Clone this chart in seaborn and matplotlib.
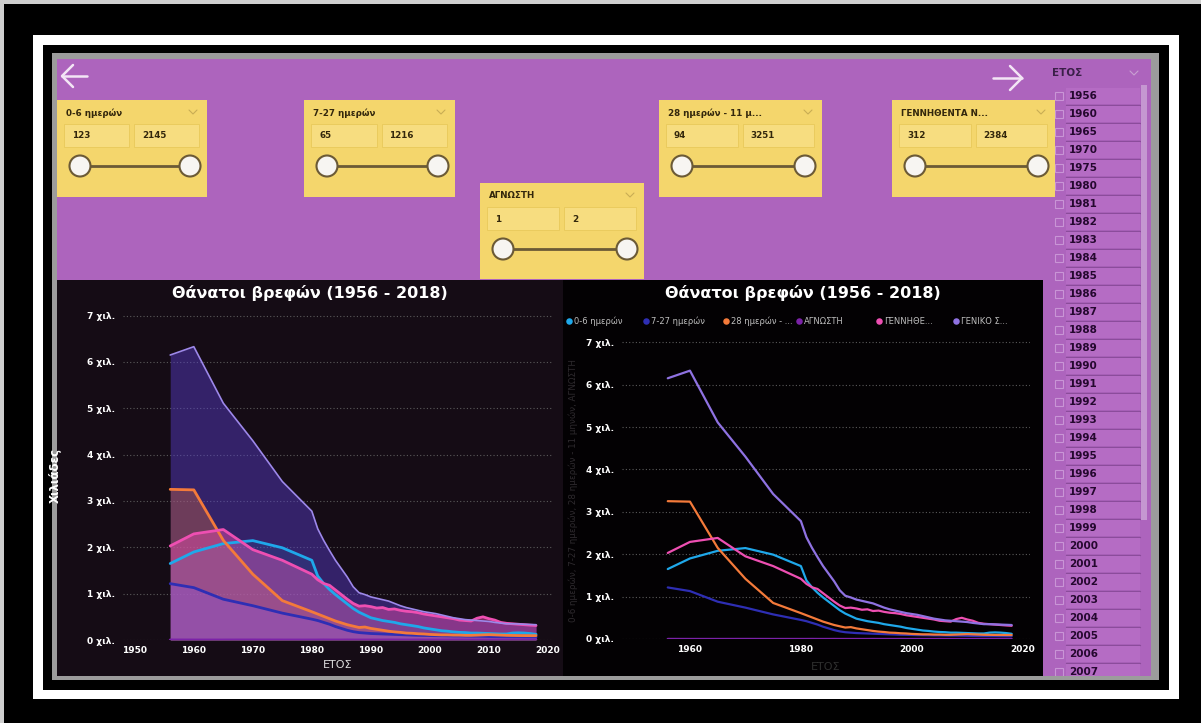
import numpy as np
import pandas as pd
import matplotlib
matplotlib.use("Agg")
import matplotlib.pyplot as plt
import seaborn as sns
from matplotlib.patches import Rectangle, Circle

# ---------------- data ----------------
years = [1956, 1960, 1965, 1970, 1975, 1980,
         1981, 1982, 1983, 1984, 1985, 1986, 1987, 1988, 1989, 1990,
         1991, 1992, 1993, 1994, 1995, 1996, 1997, 1998, 1999, 2000,
         2001, 2002, 2003, 2004, 2005, 2006, 2007, 2008, 2009, 2010,
         2011, 2012, 2013, 2014, 2015, 2016, 2017, 2018]

d06 = [1650, 1900, 2080, 2145, 1990, 1720,
       1380, 1220, 1090, 980, 880, 780, 680, 600, 540, 480,
       450, 420, 400, 380, 350, 330, 310, 290, 260, 240,
       220, 200, 190, 175, 165, 160, 150, 150, 145, 140,
       135, 130, 130, 150, 155, 150, 140, 123]
d727 = [1216, 1130, 880, 740, 580, 450,
        420, 380, 340, 290, 250, 210, 180, 160, 150, 140,
        135, 130, 125, 120, 115, 110, 105, 100, 98, 95,
        92, 90, 88, 85, 85, 82, 80, 80, 78, 75,
        72, 70, 70, 68, 68, 66, 65, 65]
d28 = [3251, 3240, 2150, 1420, 850, 610,
       560, 510, 460, 410, 370, 330, 300, 270, 280, 250,
       230, 210, 190, 175, 165, 150, 145, 135, 130, 120,
       115, 110, 110, 105, 105, 100, 100, 105, 110, 115,
       110, 105, 100, 98, 96, 95, 94, 94]
unk = [2, 1, 1, 2, 1, 1,
       1, 2, 1, 1, 1, 2, 1, 1, 1, 1,
       1, 1, 2, 1, 1, 1, 1, 2, 1, 1,
       1, 1, 1, 1, 2, 1, 1, 1, 1, 1,
       1, 1, 2, 1, 1, 1, 1, 1]
stb = [2030, 2290, 2384, 1950, 1720, 1420,
       1300, 1220, 1180, 1080, 980, 880, 790, 730, 740, 720,
       690, 700, 660, 670, 640, 620, 610, 590, 560, 540,
       520, 500, 480, 460, 430, 420, 410, 470, 500, 460,
       430, 380, 360, 350, 340, 330, 320, 312]
tot = [6150, 6330, 5110, 4300, 3420, 2780,
       2400, 2150, 1930, 1720, 1540, 1360, 1150, 1020, 980, 930,
       900, 870, 840, 790, 740, 700, 670, 640, 610, 590,
       570, 540, 510, 480, 460, 440, 430, 420, 410, 400,
       380, 365, 350, 350, 345, 340, 335, 330]

series_names = ["0-6 ημερών", "7-27 ημερών", "28 ημερών - 11 μηνών",
                "ΑΓΝΩΣΤΗ", "ΓΕΝΝΗΘΕΝΤΑ ΝΕΚΡΑ", "ΓΕΝΙΚΟ ΣΥΝΟΛΟ"]
legend_labels = ["0-6 ημερών", "7-27 ημερών", "28 ημερών - ...",
                 "ΑΓΝΩΣΤΗ", "ΓΕΝΝΗΘΕ...", "ΓΕΝΙΚΟ Σ..."]
series_colors = ["#1fa8ea", "#2e2eb4", "#f47a3a", "#7b22a8", "#ee4fb2", "#8f72e2"]
ytick_vals = [0, 1000, 2000, 3000, 4000, 5000, 6000, 7000]
ytick_labels = ["0 χιλ.", "1 χιλ.", "2 χιλ.", "3 χιλ.", "4 χιλ.", "5 χιλ.", "6 χιλ.", "7 χιλ."]
xticks_left = [1950, 1960, 1970, 1980, 1990, 2000, 2010, 2020]
xticks_right = [1960, 1980, 2000, 2020]
title_text = "Θάνατοι βρεφών (1956 - 2018)"

card_titles = ["0-6 ημερών", "7-27 ημερών", "ΑΓΝΩΣΤΗ", "28 ημερών - 11 μ...", "ΓΕΝΝΗΘΕΝΤΑ Ν..."]
card_lows = ["123", "65", "1", "94", "312"]
card_highs = ["2145", "1216", "2", "3251", "2384"]
slicer_years = years[:33]

series_values = [d06, d727, d28, unk, stb, tot]
df = pd.DataFrame({
    "ΕΤΟΣ": years * len(series_names),
    "value": sum(series_values, []),
    "series": sum([[n] * len(years) for n in series_names], []),
})
palette = dict(zip(series_names, series_colors))

# ---------------- figure ----------------
W, H = 1201, 723
sns.set_theme(style="dark")
plt.rcParams["font.family"] = ["DejaVu Sans"]
fig = plt.figure(figsize=(W / 100, H / 100), dpi=100, facecolor="black")
bg = fig.add_axes([0, 0, 1, 1])
bg.set_xlim(0, W)
bg.set_ylim(H, 0)
bg.axis("off")
bg.set_facecolor("black")

PURPLE = "#ad64bd"
YELLOW = "#f4d66c"


def rectp(x0, y0, x1, y1):
    return [x0 / W, 1 - y1 / H, (x1 - x0) / W, (y1 - y0) / H]


def box(x0, y0, x1, y1, fc, ec="none", lw=0, z=1):
    p = Rectangle((x0, y0), x1 - x0, y1 - y0, facecolor=fc, edgecolor=ec, linewidth=lw, zorder=z)
    bg.add_patch(p)
    return p


def chevron(x, y, c, z=5):
    bg.plot([x - 4, x, x + 4], [y - 2, y + 2, y - 2], color=c, lw=0.8, zorder=z)


# outer frames
box(0, 0, W, 4, "#cfcfcf")
box(0, 0, 4, H, "#cfcfcf")
box(33, 35, 1179, 699, "white")
box(43, 45, 1169, 690, "black")
box(52, 53, 1159, 680, "#9c9c9c")
box(57, 59, 1151, 676, PURPLE)

# arrows
ac = "#f3e6f5"
bg.plot([62, 87], [76, 76], color=ac, lw=1.8, zorder=3)
bg.plot([73, 62, 73], [65, 76, 87], color=ac, lw=1.8, zorder=3)
bg.plot([993, 1022], [78, 78], color=ac, lw=1.8, zorder=3)
bg.plot([1010, 1022, 1010], [66, 78, 90], color=ac, lw=1.8, zorder=3)

# year list slicer
bg.text(1052, 73, "ΕΤΟΣ", color="#3a1f48", fontsize=7.5, fontweight="bold", va="center", ha="left", zorder=3)
chevron(1134, 73, "#c9a0d2")
clip = Rectangle((1043, 59), 108, 617, transform=bg.transData)
for i, yr in enumerate(slicer_years):
    yc = 96 + 18 * i
    r = box(1066, yc - 8, 1140, yc + 8, "#b56cc4", z=2)
    r.set_clip_path(clip)
    ln, = bg.plot([1066, 1140], [yc + 8.5, yc + 8.5], color="#8b4c9b", lw=1, zorder=2)
    ln.set_clip_path(clip)
    cb = Rectangle((1055, yc - 4), 8, 8, facecolor="none", edgecolor="#c995d6", lw=0.8, zorder=2)
    bg.add_patch(cb)
    cb.set_clip_path(clip)
    t = bg.text(1069, yc, str(yr), color="#25082f", fontsize=7.5, fontweight="bold", va="center", ha="left", zorder=3)
    t.set_clip_path(clip)
box(1141, 85, 1147, 520, "#c597d1", z=2)

# chart panels
box(57, 280, 563, 676, "#150c15")
box(563, 280, 1043, 676, "#030103")

# slicer cards
cards = [(57, 100, 207, 197), (304, 100, 455, 197), (480, 183, 644, 279),
         (659, 100, 822, 197), (892, 100, 1055, 197)]
for (x0, y0, x1, y1), ttl, lo, hi in zip(cards, card_titles, card_lows, card_highs):
    w = x1 - x0
    box(x0, y0, x1, y1, YELLOW, z=4)
    bg.text(x0 + 9, y0 + 13, ttl, color="#33270c", fontsize=6.3, fontweight="bold", va="center", ha="left", zorder=5)
    chevron(x1 - 14, y0 + 12, "#c9ad55")
    mid = x0 + w / 2
    box(x0 + 7, y0 + 24, mid - 3, y0 + 47, "#f7dd80", ec="#e9c95a", lw=0.6, z=5)
    box(mid + 2, y0 + 24, x1 - 8, y0 + 47, "#f7dd80", ec="#e9c95a", lw=0.6, z=5)
    bg.text(x0 + 15, y0 + 36, lo, color="#33270c", fontsize=6.3, fontweight="bold", va="center", ha="left", zorder=6)
    bg.text(mid + 10, y0 + 36, hi, color="#33270c", fontsize=6.3, fontweight="bold", va="center", ha="left", zorder=6)
    cl, cr = x0 + 23, x1 - 17
    sy = y0 + 66
    bg.plot([cl, cr], [sy, sy], color="#6b5a36", lw=2, zorder=5)
    for cx in (cl, cr):
        bg.add_patch(Circle((cx, sy), 10.5, facecolor="#f7f5f2", edgecolor="#6b5a36", lw=1.5, zorder=6))

# titles
for cx in (310, 803):
    bg.text(cx, 293, title_text, color="white", fontsize=11.5, fontweight="bold", ha="center", va="center", zorder=3)

# legend (right chart)
leg_x = [569, 646, 726, 799, 879, 956]
for xx, lab, col in zip(leg_x, legend_labels, series_colors):
    bg.scatter([xx], [321], s=22, color=col, zorder=4, linewidths=0)
    bg.text(xx + 5, 321, lab, color="#bdbdbd", fontsize=6, va="center", ha="left", zorder=4)

# faint y label on right
bg.text(573, 490, "0-6 ημερών, 7-27 ημερών, 28 ημερών - 11 μηνών, ΑΓΝΩΣΤΗ",
        color="#2e2a2e", fontsize=6.3, rotation=90, ha="center", va="center", zorder=3)


def style_axis(ax, xlim, xticks):
    ax.set_facecolor("none")
    ax.set_xlim(*xlim)
    ax.set_ylim(0, 7100)
    ax.set_yticks(ytick_vals)
    ax.set_yticklabels(ytick_labels)
    ax.set_xticks(xticks)
    ax.set_xticklabels([str(x) for x in xticks])
    for s in ax.spines.values():
        s.set_visible(False)
    ax.tick_params(axis="both", length=0, colors="white", labelsize=6.5)
    for lab in ax.get_xticklabels() + ax.get_yticklabels():
        lab.set_fontweight("bold")
    ax.tick_params(axis="y", pad=6)
    ax.tick_params(axis="x", pad=4)
    ax.grid(False)
    for v in ytick_vals:
        ax.axhline(v, color="#5a5a5a", lw=0.8, ls=(0, (1, 2)), zorder=0)


# left area chart
axL = fig.add_axes(rectp(123, 311, 552, 640))
style_axis(axL, (1948.0, 2020.7), xticks_left)
fill_spec = [("ΓΕΝΙΚΟ ΣΥΝΟΛΟ", "#5a3fd0", 0.45),
             ("28 ημερών - 11 μηνών", "#f47a3a", 0.30),
             ("ΓΕΝΝΗΘΕΝΤΑ ΝΕΚΡΑ", "#ee4fb2", 0.45),
             ("0-6 ημερών", "#1fa8ea", 0.10),
             ("7-27 ημερών", "#8a55e8", 0.30)]
for name, fc, al in fill_spec:
    sub = df[df["series"] == name]
    axL.fill_between(sub["ΕΤΟΣ"], 0, sub["value"], color=fc, alpha=al, lw=0, zorder=1)
sns.lineplot(data=df[df["series"] != "ΓΕΝΙΚΟ ΣΥΝΟΛΟ"], x="ΕΤΟΣ", y="value", hue="series",
             palette=palette, ax=axL, legend=False, linewidth=2.0, zorder=3)
sns.lineplot(data=df[df["series"] == "ΓΕΝΙΚΟ ΣΥΝΟΛΟ"], x="ΕΤΟΣ", y="value", color="#9d88ea",
             ax=axL, legend=False, linewidth=1.2, zorder=3)
axL.set_xlabel("ΕΤΟΣ", color="#dddddd", fontsize=8, labelpad=4)
axL.set_ylabel("Χιλιάδες", color="white", fontsize=8.5, fontweight="bold")
axL.yaxis.set_label_coords(-0.142, 0.5)

# right line chart
axR = fig.add_axes(rectp(622, 338, 1030, 639))
style_axis(axR, (1947.75, 2021.3), xticks_right)
sns.lineplot(data=df, x="ΕΤΟΣ", y="value", hue="series", hue_order=series_names,
             palette=palette, ax=axR, legend=False, linewidth=1.6)
axR.set_xlabel("ΕΤΟΣ", color="#2f2f2f", fontsize=8, labelpad=6)
axR.set_ylabel("")

fig.savefig("out.png", dpi=100, facecolor="black")
